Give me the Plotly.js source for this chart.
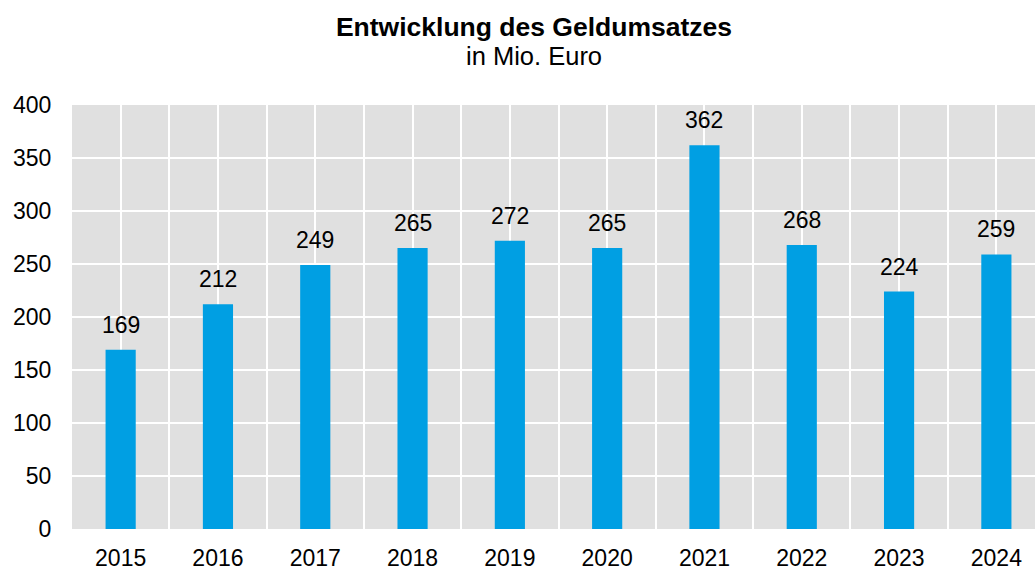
<!DOCTYPE html>
<html>
<head>
<meta charset="utf-8">
<script src="https://cdn.plot.ly/plotly-3.0.1.min.js"></script>
<style>html,body{margin:0;padding:0;background:#fff;}#chart{width:1035px;height:570px;}</style>
</head>
<body>
<div id="chart"></div>
<script>
const years = ["2015","2016","2017","2018","2019","2020","2021","2022","2023","2024"];
const values = [169, 212, 249, 265, 272, 265, 362, 268, 224, 259];
const yTicks = [0, 50, 100, 150, 200, 250, 300, 350, 400];
const titleText = "Entwicklung des Geldumsatzes";
const subtitleText = "in Mio. Euro";

const xs = years.map((_, i) => i);
const gridVals = [];
const gridText = [];
for (let i = 0; i < years.length; i++) {
  gridVals.push(i - 0.5); gridText.push("");
  gridVals.push(i); gridText.push(years[i]);
}
gridVals.push(years.length - 0.5); gridText.push("");

const font = {family: "Arial, 'Liberation Sans', sans-serif", color: "#000"};

const trace = {
  type: "bar",
  x: xs,
  y: values,
  width: 0.31,
  marker: {color: "#009FE3"},
  hoverinfo: "skip"
};

const annotations = values.map((v, i) => ({
  x: xs[i], y: v, text: String(v), showarrow: false,
  xanchor: "center", yanchor: "bottom", yshift: 10,
  font: Object.assign({}, font, {size: 23})
}));
annotations.push({
  xref: "paper", yref: "paper",
  x: (534 - 72) / 963, y: (529.3 - 56) / 424.3,
  xanchor: "center", yanchor: "middle",
  text: subtitleText, showarrow: false,
  font: Object.assign({}, font, {size: 25.5})
});

const layout = {
  width: 1035, height: 570,
  margin: {l: 72, r: 0, t: 105, b: 41},
  paper_bgcolor: "#ffffff",
  plot_bgcolor: "#E0E0E0",
  showlegend: false,
  title: {
    text: "<b>" + titleText + "</b>",
    x: (534 - 72) / 963, xref: "paper", xanchor: "center",
    y: 1 - 27 / 570, yref: "container", yanchor: "middle",
    font: Object.assign({}, font, {size: 26.5})
  },
  xaxis: {
    range: [-0.5, 9.397],
    tickmode: "array", tickvals: gridVals, ticktext: gridText,
    showgrid: true, gridcolor: "#ffffff", gridwidth: 2,
    zeroline: false, showline: false,
    ticks: "outside", ticklen: 8, tickcolor: "rgba(0,0,0,0)",
    tickfont: Object.assign({}, font, {size: 23}),
    fixedrange: true
  },
  yaxis: {
    range: [0, 400],
    tickmode: "array", tickvals: yTicks, ticktext: yTicks.map(String),
    showgrid: true, gridcolor: "#ffffff", gridwidth: 2,
    zeroline: false, showline: false,
    ticks: "outside", ticklen: 15, tickcolor: "rgba(0,0,0,0)",
    tickfont: Object.assign({}, font, {size: 23}),
    fixedrange: true
  },
  annotations: annotations
};

Plotly.newPlot("chart", [trace], layout, {displayModeBar: false, staticPlot: true});
</script>
</body>
</html>
